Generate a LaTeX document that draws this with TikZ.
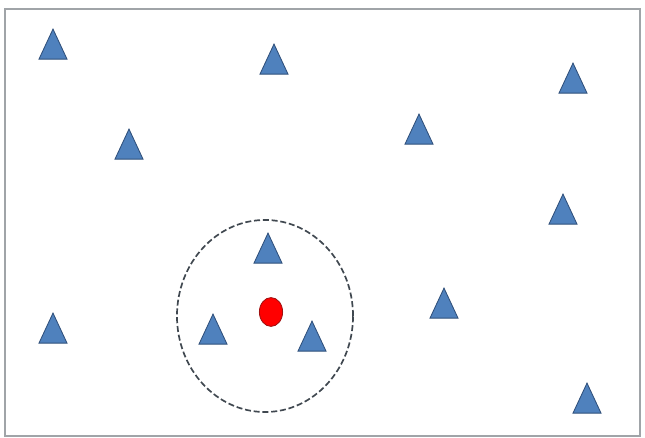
\documentclass[tikz,border=0pt]{standalone}
\usepackage{xcolor}
\usepackage{tikz}
\usetikzlibrary{shapes.geometric}
\definecolor{pointBlue}{HTML}{4F81BD}
\definecolor{pointEdge}{HTML}{2F4F7A}
\definecolor{queryRed}{HTML}{FF0000}
\definecolor{queryEdge}{HTML}{A01010}
\definecolor{frameGray}{HTML}{A0A4A8}
\definecolor{rangeGray}{HTML}{404850}

\begin{document}
\begin{tikzpicture}[
    x=0.025cm, y=-0.025cm,
    pt/.style={isosceles triangle, isosceles triangle stretches, rotate=90,
      anchor=apex, minimum width=0.7cm, minimum height=0.75cm, inner sep=0pt,
      fill=pointBlue, draw=pointEdge, line width=0.6pt},
    query/.style={ellipse, minimum width=0.58cm, minimum height=0.72cm,
      inner sep=0pt, fill=queryRed, draw=queryEdge, line width=0.6pt}
  ]

  % ── Frame ──────────────────────────────────────────────────────────────
  \useasboundingbox (0, 0) rectangle (645, 438);
  \draw[frameGray, line width=1.1pt] (5, 9) rectangle (640, 436);

  % ── Neighbourhood of the query point ───────────────────────────────────
  \draw[rangeGray, line width=1.2pt, dash pattern=on 0.15cm off 0.07cm]
    (265, 316) ellipse [x radius=2.2cm, y radius=2.4cm];

  % Query point
  \node[query] (q) at (271, 312) {};

  % ── Data points (placed by their apex) ─────────────────────────────────
  \node[pt] (p1)  at ( 53,  28) {};
  \node[pt] (p2)  at (274,  43) {};
  \node[pt] (p3)  at (573,  62) {};
  \node[pt] (p4)  at (129, 128) {};
  \node[pt] (p5)  at (419, 113) {};
  \node[pt] (p6)  at (563, 193) {};
  \node[pt] (p7)  at (268, 232) {};
  \node[pt] (p8)  at ( 53, 312) {};
  \node[pt] (p9)  at (213, 313) {};
  \node[pt] (p10) at (312, 320) {};
  \node[pt] (p11) at (444, 287) {};
  \node[pt] (p12) at (587, 382) {};

\end{tikzpicture}
\end{document}
